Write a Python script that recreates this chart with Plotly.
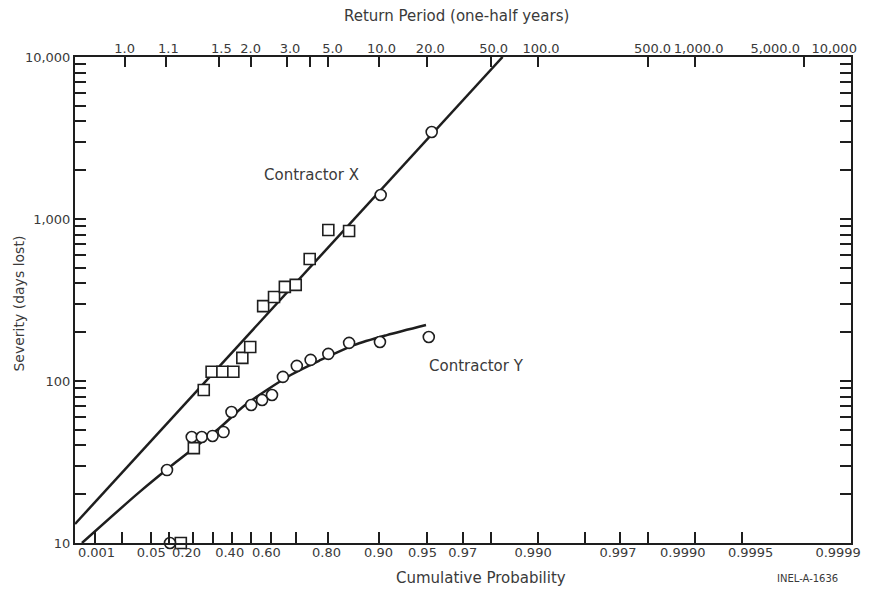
import math
import plotly.graph_objects as go

# ---------------- data ----------------
# Contractor X (plotted points)
contractor_x_prob = [0.144, 0.202, 0.251, 0.292, 0.350, 0.409, 0.457, 0.498, 0.562,
                     0.612, 0.658, 0.700, 0.748, 0.802, 0.850, 0.903, 0.953]
contractor_x_days = [10, 38.5, 88, 114, 114, 114, 139, 162, 290,
                     330, 381, 392, 566, 855, 843, 1406, 3443]
# Contractor Y (plotted points)
contractor_y_prob = [0.093, 0.103, 0.192, 0.241, 0.297, 0.356, 0.399, 0.503, 0.557,
                     0.603, 0.650, 0.704, 0.751, 0.802, 0.850, 0.902, 0.951]
contractor_y_days = [28.2, 10, 45.1, 45.1, 45.8, 48.4, 64.4, 71.1, 76.3,
                     81.9, 106, 124, 135, 147, 172, 174, 187]
# fitted lines (as drawn)
fit_x_prob = [0.0001, 0.9832]
fit_x_days = [13.1, 10000]
fit_y_prob = [0.000245, 0.0282, 0.125, 0.340, 0.472, 0.681, 0.781, 0.860, 0.911, 0.949]
fit_y_days = [10, 20.6, 31.6, 52, 71.1, 108.9, 134.8, 166.7, 192, 221.7]

# axis ticks / labels
prob_ticks = [0.001, 0.01, 0.05, 0.10, 0.20, 0.30, 0.40, 0.50, 0.60, 0.70, 0.80,
              0.90, 0.95, 0.97, 0.98, 0.99, 0.995, 0.997, 0.998, 0.999, 0.9995, 0.9999]
prob_label_vals = [0.001, 0.05, 0.20, 0.40, 0.60, 0.80, 0.90, 0.95, 0.97, 0.99,
                   0.997, 0.999, 0.9995, 0.9999]
prob_label_text = ["0.001", "0.05", "0.20", "0.40", "0.60", "0.80", "0.90", "0.95",
                   "0.97", "0.990", "0.997", "0.9990", "0.9995", "0.9999"]
period_ticks = [1.012, 1.1, 1.5, 2.0, 3.0, 4.0, 5.0, 10.0, 20.0, 50.0, 100.0,
                500.0, 1000.0, 5000.0, 10000.0]
period_label_vals = [1.012, 1.1, 1.5, 2.0, 3.0, 5.0, 10.0, 20.0, 50.0, 100.0,
                     500.0, 1000.0, 5000.0, 10000.0]
period_label_text = ["1.0", "1.1", "1.5", "2.0", "3.0", "5.0", "10.0", "20.0", "50.0",
                     "100.0", "500.0", "1,000.0", "5,000.0", "10,000"]
severity_ticks = [m * 10 ** e for e in (1, 2, 3) for m in range(1, 10)] + [10000]
severity_labels = {10: "10", 100: "100", 1000: "1,000", 10000: "10,000"}

# hand-lettering offsets of the label text (pixels), style only
prob_label_shift_px = [2, 0, -7, -2, -5, -1, 0, -5, 0, -5, -2, -12, 9, -13]
period_label_shift_px = [0, 2, 2, 0, 3, 5, 3, 3, 3, 3, 5, 4, -29, -17]

# ---------------- extreme-value (Gumbel) probability scale ----------------
def gumbel(p):
    return -math.log(-math.log(p))

def period_to_prob(t):
    return 1.0 - 1.0 / t

# the page body adds an 8px margin; size the figure so the plot sits where the
# reference has it inside the 873x592 window
OFF = 8
W, H = 873 - OFF, 592 - OFF
ML, MR, MT, MB = 75 - OFF, 14, 57 - OFF, 49
x_range = [gumbel(0.0001), gumbel(0.9999)]
px_per_unit = (W - ML - MR) / (x_range[1] - x_range[0])

INK = "#1e1e1e"
TXT = "#3a3a3a"
FONT = "DejaVu Sans"

fig = go.Figure()

fig.add_trace(go.Scatter(
    x=[gumbel(p) for p in fit_x_prob], y=fit_x_days, mode="lines",
    line=dict(color=INK, width=2.5), hoverinfo="skip", showlegend=False))
fig.add_trace(go.Scatter(
    x=[gumbel(p) for p in fit_y_prob], y=fit_y_days, mode="lines",
    line=dict(color=INK, width=2.5, shape="spline", smoothing=0.8),
    hoverinfo="skip", showlegend=False))

n_x = len(contractor_x_prob)
x_symbols = ["square" if i < n_x - 2 else "circle" for i in range(n_x)]
fig.add_trace(go.Scatter(
    x=[gumbel(p) for p in contractor_x_prob], y=contractor_x_days, mode="markers",
    marker=dict(symbol=x_symbols, size=11,
                color="white", line=dict(color=INK, width=1.6)),
    cliponaxis=False, showlegend=False, name="Contractor X"))
fig.add_trace(go.Scatter(
    x=[gumbel(p) for p in contractor_y_prob], y=contractor_y_days, mode="markers",
    marker=dict(symbol="circle", size=11, color="white",
                line=dict(color=INK, width=1.6)),
    cliponaxis=False, showlegend=False, name="Contractor Y"))

# invisible anchors for the extra overlaying axes
for ax in ("x2", "x3", "x4"):
    fig.add_trace(go.Scatter(x=[x_range[0]], y=[10], xaxis=ax, mode="markers",
                             marker=dict(opacity=0), hoverinfo="skip",
                             showlegend=False))

tickfont = dict(family=FONT, size=13, color=TXT)
common = dict(range=x_range, showgrid=False, zeroline=False, fixedrange=True)

fig.update_layout(
    width=W, height=H,
    margin=dict(l=ML, r=MR, t=MT, b=MB, pad=0),
    paper_bgcolor="white", plot_bgcolor="white",
    font=dict(family=FONT, color=TXT),
    xaxis=dict(**common, tickmode="array",
               tickvals=[gumbel(p) for p in prob_ticks],
               showticklabels=False, ticks="inside", ticklen=11, tickwidth=1.5,
               tickcolor=INK, showline=True, linecolor=INK, linewidth=2,
               mirror=False),
    xaxis3=dict(**common, overlaying="x", side="bottom", anchor="y",
                tickmode="array",
                tickvals=[gumbel(p) + s / px_per_unit
                          for p, s in zip(prob_label_vals, prob_label_shift_px)],
                ticktext=prob_label_text, ticks="", showline=False,
                tickangle=0, tickfont=tickfont),
    xaxis2=dict(**common, overlaying="x", side="top", anchor="y",
                tickmode="array",
                tickvals=[gumbel(period_to_prob(t)) for t in period_ticks],
                showticklabels=False, ticks="inside", ticklen=10, tickwidth=1.5,
                tickcolor=INK, showline=True, linecolor=INK, linewidth=2),
    xaxis4=dict(**common, overlaying="x", side="top", anchor="y",
                tickmode="array",
                tickvals=[gumbel(period_to_prob(t)) + s / px_per_unit
                          for t, s in zip(period_label_vals, period_label_shift_px)],
                ticktext=period_label_text, ticks="", showline=False,
                tickangle=0, tickfont=tickfont),
    yaxis=dict(type="log", range=[1, 4], showgrid=False, zeroline=False,
               tickmode="array", tickvals=severity_ticks,
               ticktext=[severity_labels.get(v, "") for v in severity_ticks],
               ticks="inside", ticklen=11, tickwidth=1.5, tickcolor=INK,
               showline=True, linecolor=INK, linewidth=2, mirror="ticks",
               tickfont=tickfont, fixedrange=True),
)

# annotation centres given in window pixels
def px_x(px):
    return (px - OFF - ML) / (W - ML - MR)

def px_y(py):
    return (H - MB - (py - OFF)) / (H - MT - MB)

annots = [
    ("Return Period (one-half years)", 460, 16, 15, 0),
    ("Cumulative Probability", 485, 578, 15, 0),
    ("INEL-A-1636", 815, 578, 10, 0),
    ("Severity (days lost)", 18, 304, 14, -90),
    ("Contractor X", 314, 175, 15, 0),
    ("Contractor Y", 481, 366, 15, 0),
]
for text, cx, cy, size, ang in annots:
    fig.add_annotation(text=text, xref="paper", yref="paper",
                       x=px_x(cx), y=px_y(cy), xanchor="center", yanchor="middle",
                       showarrow=False, textangle=ang,
                       font=dict(family=FONT, size=size, color=TXT))

fig.write_html("out.html")
